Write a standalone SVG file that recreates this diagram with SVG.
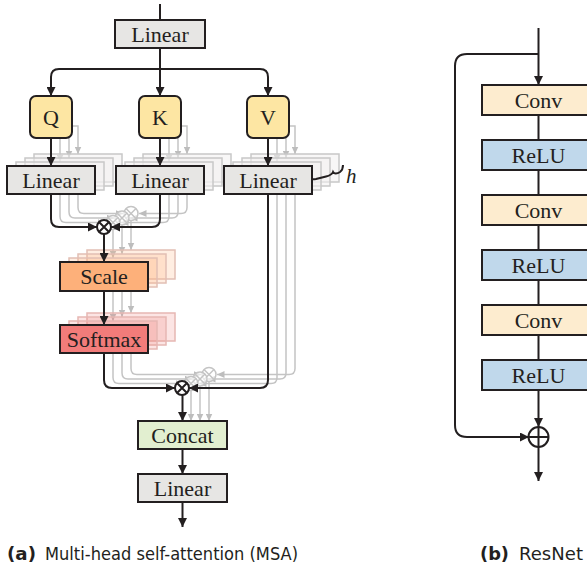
<svg xmlns="http://www.w3.org/2000/svg" width="587" height="571" viewBox="0 0 587 571">
<defs>
<marker id="ah" markerUnits="userSpaceOnUse" markerWidth="10" markerHeight="9" refX="9" refY="4.5" orient="auto"><path d="M0,0 L9,4.5 L0,9 z" fill="#231f20"/></marker>
<marker id="gh" markerUnits="userSpaceOnUse" markerWidth="8" markerHeight="7" refX="7.5" refY="3.5" orient="auto"><path d="M0,0 L7.5,3.5 L0,7 z" fill="#bdbdbd"/></marker>
</defs>
<style>
.bx{stroke:#231f20;stroke-width:2}
.t{font-family:"Liberation Serif","Times New Roman",serif;font-size:22px;fill:#231f20;text-anchor:middle}
.c{fill:none;stroke:#231f20;stroke-width:2}
.ca{marker-end:url(#ah)}
.g{fill:none;stroke:#c4c4c4;stroke-width:1.5}
.ga{marker-end:url(#gh)}
.gb{fill:#f2f1f0;fill-opacity:0.55;stroke:#c8c8c8;stroke-width:1.5}
.gs{fill:#fdb07a;fill-opacity:0.22;stroke:#e2bfb4;stroke-width:1.5}
.gm{fill:#f27c7a;fill-opacity:0.2;stroke:#e6b7b3;stroke-width:1.5}
.gc{fill:#ffffff;fill-opacity:0.6;stroke:#c4c4c4;stroke-width:1.5}
.lin{fill:#e7e6e4}
.qkv{fill:#fde6a3}
.sc{fill:#fdb07a}
.sm{fill:#f27c7a}
.cc{fill:#e2efd0}
.cv{fill:#fdeccf}
.rl{fill:#c0d8eb}
.op{fill:#ffffff;stroke:#231f20;stroke-width:2}
.cap{font-family:"DejaVu Sans","Liberation Sans",sans-serif;font-size:18.5px;fill:#231f20}
</style>

<!-- ghost heads (h) -->
<g id="ghosts">
  <g class="g ga">
    <path d="M60,126 V162"/><path d="M69,126 V158"/><path d="M72,126 H78 V154"/>
    <path d="M169,126 V162"/><path d="M178,126 V158"/><path d="M181,126 H187 V154"/>
    <path d="M277,126 V162"/><path d="M286,126 V158"/><path d="M289,126 H295 V154"/>
  </g>
  <g>
    <rect class="gb" x="34" y="154" width="88" height="28"/><rect class="gb" x="25" y="158" width="88" height="28"/><rect class="gb" x="16" y="162" width="88" height="28"/>
    <rect class="gb" x="143" y="154" width="88" height="28"/><rect class="gb" x="134" y="158" width="88" height="28"/><rect class="gb" x="125" y="162" width="88" height="28"/>
    <rect class="gb" x="251" y="154" width="88" height="28"/><rect class="gb" x="242" y="158" width="88" height="28"/><rect class="gb" x="233" y="162" width="88" height="28"/>
  </g>
  <g class="g ga">
    <path d="M60,190 V216.5 Q60,222.5 66,222.5 H105"/>
    <path d="M69,186 V212 Q69,218 75,218 H114"/>
    <path d="M78,182 V207.5 Q78,213.5 84,213.5 H123"/>
    <path d="M169,190 V216.5 Q169,222.5 163,222.5 H121"/>
    <path d="M178,186 V212 Q178,218 172,218 H130"/>
    <path d="M187,182 V207.5 Q187,213.5 181,213.5 H139"/>
    <path d="M113,229.5 V258"/><path d="M122,225 V254"/><path d="M131,220.5 V250"/>
    <path d="M113,287 V321"/><path d="M122,283 V317"/><path d="M131,279 V313"/>
    <path d="M113,349 V377.5 Q113,383.5 119,383.5 H183"/>
    <path d="M122,345 V373 Q122,379 128,379 H192"/>
    <path d="M131,341 V368.5 Q131,374.5 137,374.5 H201"/>
    <path d="M277,190 V377.5 Q277,383.5 271,383.5 H199"/>
    <path d="M286,186 V373 Q286,379 280,379 H208"/>
    <path d="M295,182 V368.5 Q295,374.5 289,374.5 H217"/>
    <path d="M191,390.5 V421"/><path d="M200,386 V421"/><path d="M209,381.5 V421"/>
  </g>
  <g>
    <g class="gc"><circle cx="131" cy="213.5" r="7"/><path d="M126,208.5 L136,218.5 M136,208.5 L126,218.5"/></g>
    <g class="gc"><circle cx="122" cy="218" r="7"/><path d="M117,213 L127,223 M127,213 L117,223"/></g>
    <g class="gc"><circle cx="113" cy="222.5" r="7"/><path d="M108,217.5 L118,227.5 M118,217.5 L108,227.5"/></g>
    <rect class="gs" x="87" y="250" width="88" height="29"/><rect class="gs" x="78" y="254" width="88" height="29"/><rect class="gs" x="69" y="258" width="88" height="29"/>
    <rect class="gm" x="87" y="313" width="88" height="28"/><rect class="gm" x="78" y="317" width="88" height="28"/><rect class="gm" x="69" y="321" width="88" height="28"/>
    <g class="gc"><circle cx="209" cy="374.5" r="7"/><path d="M204,369.5 L214,379.5 M214,369.5 L204,379.5"/></g>
    <g class="gc"><circle cx="200" cy="379" r="7"/><path d="M195,374 L205,384 M205,374 L195,384"/></g>
    <g class="gc"><circle cx="191" cy="383.5" r="7"/><path d="M186,378.5 L196,388.5 M196,378.5 L186,388.5"/></g>
  </g>
</g>

<!-- connectors -->
<g id="connectors">
  <path class="c" d="M160,4 V20"/>
  <path class="c ca" d="M160,48 V96"/>
  <path class="c ca" d="M160,69 H59 Q51,69 51,77 V96"/>
  <path class="c ca" d="M160,69 H260 Q268,69 268,77 V96"/>
  <path class="c ca" d="M51,138 V166"/>
  <path class="c ca" d="M160,138 V166"/>
  <path class="c ca" d="M268,138 V166"/>
  <path class="c ca" d="M51,194 V219 Q51,227 59,227 H97"/>
  <path class="c ca" d="M160,194 V219 Q160,227 152,227 H111"/>
  <path class="c ca" d="M104,234 V262"/>
  <path class="c ca" d="M104,291 V325"/>
  <path class="c ca" d="M104,353 V380 Q104,388 112,388 H175"/>
  <path class="c ca" d="M268,194 V380 Q268,388 260,388 H189"/>
  <path class="c ca" d="M182.5,395 V421"/>
  <path class="c ca" d="M182.5,449 V474"/>
  <path class="c ca" d="M182.5,502 V527"/>
  <path class="c" stroke-width="1.6" d="M308,173.5 C308.5,178.5 311,180 316,179 L326,176.5 C330,175.5 332,174.5 333,172 C334,174 337,174 340,172 C342,170.5 343,168 343,165"/>
  <!-- ResNet -->
  <path class="c ca" d="M538.5,28 V85"/>
  <path class="c ca" d="M538.5,54 H467 Q455,54 455,66 V425 Q455,437 467,437 H529"/>
  <path class="c" d="M538.5,115 V140 M538.5,170 V195 M538.5,225 V250 M538.5,280 V305 M538.5,335 V360"/>
  <path class="c ca" d="M538.5,390 V427"/>
  <path class="c ca" d="M538.5,447 V481"/>
</g>

<g id="linear-top"><rect class="bx lin" x="115" y="20" width="90" height="28"/><text class="t" x="160" y="41.5">Linear</text></g>
<g id="q"><rect class="bx qkv" x="30" y="96" width="42" height="42" rx="6"/><text class="t" x="51" y="124.5">Q</text></g>
<g id="k"><rect class="bx qkv" x="139" y="96" width="42" height="42" rx="6"/><text class="t" x="160" y="124.5">K</text></g>
<g id="v"><rect class="bx qkv" x="247" y="96" width="42" height="42" rx="6"/><text class="t" x="268" y="124.5">V</text></g>
<g id="linear-q"><rect class="bx lin" x="7" y="166" width="88" height="28"/><text class="t" x="51" y="187.5">Linear</text></g>
<g id="linear-k"><rect class="bx lin" x="116" y="166" width="88" height="28"/><text class="t" x="160" y="187.5">Linear</text></g>
<g id="linear-v"><rect class="bx lin" x="224" y="166" width="88" height="28"/><text class="t" x="268" y="187.5">Linear</text></g>
<g id="h-label"><text x="346" y="183" font-family="Liberation Serif,serif" font-style="italic" font-size="21" fill="#231f20">h</text></g>
<g id="matmul1"><circle class="op" cx="104" cy="227" r="7"/><path class="c" stroke-width="1.6" d="M99,222 L109,232 M109,222 L99,232"/></g>
<g id="scale"><rect class="bx sc" x="60" y="262" width="88" height="29"/><text class="t" x="104" y="284">Scale</text></g>
<g id="softmax"><rect class="bx sm" x="60" y="325" width="88" height="28"/><text class="t" x="104" y="346.5">Softmax</text></g>
<g id="matmul2"><circle class="op" cx="182" cy="388" r="7"/><path class="c" stroke-width="1.6" d="M177,383 L187,393 M187,383 L177,393"/></g>
<g id="concat"><rect class="bx cc" x="138" y="421" width="89" height="28"/><text class="t" x="182.5" y="442.5">Concat</text></g>
<g id="linear-out"><rect class="bx lin" x="138" y="474" width="89" height="28"/><text class="t" x="182.5" y="495.5">Linear</text></g>

<g id="conv1"><rect class="bx cv" x="482" y="85" width="112" height="30"/><text class="t" x="538.5" y="107.5">Conv</text></g>
<g id="relu1"><rect class="bx rl" x="482" y="140" width="112" height="30"/><text class="t" x="538.5" y="162.5">ReLU</text></g>
<g id="conv2"><rect class="bx cv" x="482" y="195" width="112" height="30"/><text class="t" x="538.5" y="217.5">Conv</text></g>
<g id="relu2"><rect class="bx rl" x="482" y="250" width="112" height="30"/><text class="t" x="538.5" y="272.5">ReLU</text></g>
<g id="conv3"><rect class="bx cv" x="482" y="305" width="112" height="30"/><text class="t" x="538.5" y="327.5">Conv</text></g>
<g id="relu3"><rect class="bx rl" x="482" y="360" width="112" height="30"/><text class="t" x="538.5" y="382.5">ReLU</text></g>
<g id="add"><circle class="op" cx="538.5" cy="437" r="10"/><path class="c" d="M528.5,437 H548.5 M538.5,427 V447"/></g>

<g id="captions">
  <text class="cap" x="7" y="560" font-weight="bold" textLength="29" lengthAdjust="spacingAndGlyphs">(a)</text>
  <text class="cap" x="45" y="560" textLength="253" lengthAdjust="spacingAndGlyphs">Multi-head self-attention (MSA)</text>
  <text class="cap" x="480" y="560" font-weight="bold" textLength="29" lengthAdjust="spacingAndGlyphs">(b)</text>
  <text class="cap" x="519" y="560" textLength="64" lengthAdjust="spacingAndGlyphs">ResNet</text>
</g>
</svg>
